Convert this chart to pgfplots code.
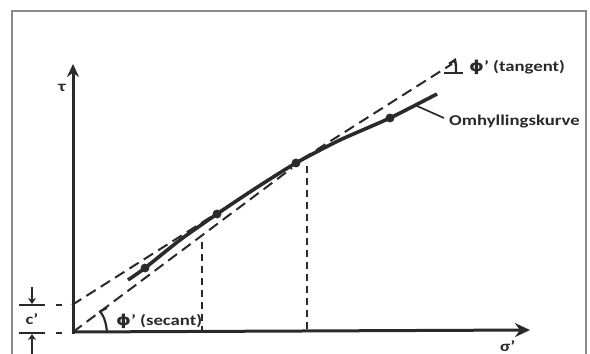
\documentclass[border=0pt]{standalone}
\usepackage{graphicx}
\usepackage{pgfplots}
\pgfplotsset{compat=1.18}
\usetikzlibrary{arrows.meta}
\usepackage{fontspec}
\setmainfont{Carlito}
\newfontfamily\djv{DejaVu Sans}
\definecolor{ink}{HTML}{2A2A2A}
\definecolor{framec}{HTML}{8A8A8A}
\newcommand{\lbl}[1]{\scalebox{1.25}[1]{\fontsize{15bp}{16bp}\selectfont\bfseries #1}}
\begin{document}
\begin{tikzpicture}
\useasboundingbox (0,0) rectangle (590bp,354bp);
\clip (0,0) rectangle (590bp,354bp);
\begin{axis}[at={(0,0)}, anchor=south west, scale only axis,
  width=590bp, height=354bp, xmin=0, xmax=590, ymin=0, ymax=354,
  y dir=reverse, hide axis, clip=false]
% frame
\addplot[framec, line width=2.2bp] coordinates {(12,360) (12,11) (586,11) (586,360)};
% axes
\addplot[ink, line width=3bp, -{Stealth[length=13bp,width=12bp]}] coordinates {(73,334) (73,64)};
\addplot[ink, line width=3bp, -{Stealth[length=15bp,width=14bp]}] coordinates {(72,332) (530,330)};
% tangent and secant (dashed)
\addplot[ink, line width=2bp, dash pattern=on 11bp off 6bp] coordinates {(72,305) (452,64)};
\addplot[ink, line width=2bp, dash pattern=on 11bp off 6bp] coordinates {(73,332) (292,168)};
% vertical dashed lines
\addplot[ink, line width=1.9bp, dash pattern=on 7bp off 5bp] coordinates {(202,242) (202,332)};
\addplot[ink, line width=1.9bp, dash pattern=on 7bp off 5bp] coordinates {(307,166) (307,332)};
% envelope curve
\addplot[ink, line width=3.6bp, smooth, tension=0.4] coordinates {(128,280) (145,268) (180,240) (217,214) (256,188) (296,163) (340,140) (390,118) (437,94)};
\addplot[ink, only marks, mark=*, mark size=4.2] coordinates {(145,268) (217,214) (296,163) (390,118)};
% leader to label
\addplot[ink, line width=1.7bp] coordinates {(417,106) (444,118)};
% angle marks
\addplot[ink, line width=2.2bp] coordinates {(444,73) (463,73)};
\addplot[ink, line width=2.4bp] coordinates {(449,64) (455,60) (456,66) (456,73)};
\addplot[ink, line width=2.2bp, smooth] coordinates {(100,311) (104,318) (106,325) (107,332)};
\addplot[ink, line width=2.2bp] coordinates {(99,312) (107,308)};
% c' annotation
\addplot[ink, line width=2bp, -{Stealth[length=6bp,width=8bp]}] coordinates {(32,287) (32,304)};
\addplot[ink, line width=2bp] coordinates {(19,305) (45,305)};
\addplot[ink, line width=2bp] coordinates {(19,333) (45,333)};
\addplot[ink, line width=2bp, -{Stealth[length=6bp,width=8bp]}] coordinates {(32,356) (32,334)};
\addplot[ink, line width=2bp] coordinates {(56,305) (62,305)};
\addplot[ink, line width=2bp] coordinates {(56,333) (62,333)};
% texts
\node[anchor=center, inner sep=0pt, text=ink] at (axis cs:32,319) {\lbl{c'}};
\node[anchor=center, inner sep=0pt, text=ink] at (axis cs:62,88) {\lbl{τ}};
\node[anchor=south west, inner sep=0pt, text=ink] at (axis cs:500,352) {\lbl{σ'}};
\node[anchor=west, inner sep=0pt, text=ink] at (axis cs:116,321) {\lbl{{\djv ϕ}' (secant)}};
\node[anchor=west, inner sep=0pt, text=ink] at (axis cs:469,67) {\lbl{{\djv ϕ}' (tangent)}};
\node[anchor=west, inner sep=0pt, text=ink] at (axis cs:449,122) {\lbl{Omhyllingskurve}};
\end{axis}
\end{tikzpicture}
\end{document}
